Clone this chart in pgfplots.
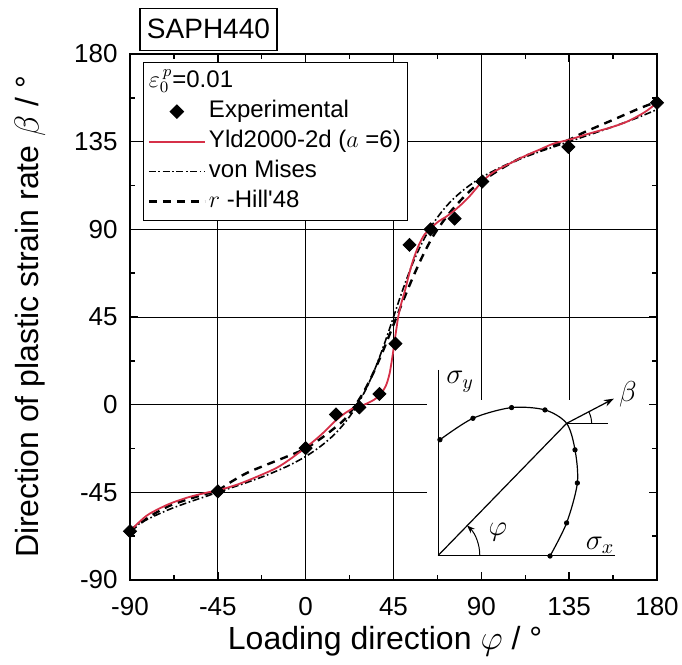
\documentclass[border=0pt]{standalone}
\usepackage{fontspec}
\setmainfont{Liberation Sans}
\usepackage{pgfplots}
\pgfplotsset{compat=1.18}
\usetikzlibrary{arrows.meta}
\definecolor{yldred}{RGB}{214,48,72}
\pgfplotsset{
 yldstyle/.style={draw=yldred, color=yldred, line width=0.9pt, no markers, smooth},
 vmstyle/.style={black, line width=0.8pt, dash pattern=on 3.5pt off 1.3pt on 0.8pt off 1.3pt, no markers, smooth},
 hillstyle/.style={black, line width=1.2pt, dash pattern=on 4pt off 3pt, no markers, smooth},
 expstyle/.style={only marks, mark=square*, mark size=2.3pt, mark options={rotate=45, fill=black, draw=black, solid}},
 explegend/.style={legend image code/.code={\draw[##1, draw=none] plot coordinates {(0pt,0pt) (14pt,0pt) (28pt,0pt)};}},
}
\begin{document}
\begin{tikzpicture}
\begin{axis}[
  at={(0,0)}, anchor=south west,
  scale only axis, width=263.5pt, height=263pt,
  xmin=-90, xmax=180, ymin=-90, ymax=180,
  xtick={-90,-45,...,180}, ytick={-90,-45,...,180},
  minor tick num=1,
  tick align=inside,
  major tick length=4pt, minor tick length=2.5pt,
  every tick/.style={black, line width=0.7pt},
  axis line style={line width=1.4pt},
  /pgf/number format/assume math mode=true,
  ticklabel style={font=\fontsize{13}{15}\selectfont},
  xticklabel style={anchor=center, yshift=-13.5pt},
  yticklabel style={anchor=east, inner sep=0pt, xshift=-6pt},
  xlabel={Loading direction $\varphi$ / °},
  ylabel={Direction of plastic strain rate $\beta$ / °},
  label style={font=\fontsize{16}{19}\selectfont},
  xlabel style={at={(axis description cs:0.484,-0.117)}, anchor=center},
  ylabel style={at={(axis description cs:-0.19,0.5)}, anchor=center},
  clip=false,
  legend cell align=left,
  legend image code/.code={\draw[#1] (0pt,0pt) -- (28pt,0pt);},
  legend style={at={(axis description cs:0,1)}, anchor=north west, xshift=6.5pt, yshift=-4pt,
    draw=black, line width=0.6pt, fill=white, font=\fontsize{12}{14}\selectfont,
    inner xsep=2pt, inner ysep=2pt, row sep=0pt,
    nodes={inner sep=1.5pt, text height=9pt, text depth=3pt}},
]
% grid
\foreach \g in {-45,0,45} {\edef\tmp{\noexpand\draw[line width=0.5pt] (axis cs:\g,-90) -- (axis cs:\g,180);}\tmp}
\foreach \g in {90,135} {\edef\tmp{\noexpand\draw[line width=0.5pt] (axis cs:\g,2.6) -- (axis cs:\g,180);}\tmp}
\foreach \g in {45,90,135} {\edef\tmp{\noexpand\draw[line width=0.5pt] (axis cs:-90,\g) -- (axis cs:180,\g);}\tmp}
\foreach \g in {-45,0} {\edef\tmp{\noexpand\draw[line width=0.5pt] (axis cs:-90,\g) -- (axis cs:62,\g);}\tmp}

\addlegendimage{empty legend}
\addlegendentry{\hspace*{-30pt}$\varepsilon_0^{\,p}$=0.01}
\addlegendimage{draw=none, mark=square*, mark size=2.3pt, mark options={rotate=45, fill=black, draw=black, solid}, mark repeat=2, mark phase=2, explegend}
\addlegendentry{Experimental}
\addlegendimage{yldstyle}
\addlegendentry{Yld2000-2d ($a$ =6)}
\addlegendimage{vmstyle}
\addlegendentry{von Mises}
\addlegendimage{hillstyle}
\addlegendentry{$r$ -Hill\textquotesingle 48}

% r-Hill'48
\addplot[hillstyle, forget plot] coordinates {
(-90,-65) (-80,-57.5) (-70,-52) (-60,-48.5) (-50,-45.5) (-45,-44) (-38,-39.5) (-30,-35)
(-20,-30.8) (-10,-26.8) (0,-22.5) (9,-16.5) (16,-11) (20,-7.5) (25,-1) (30,7) (35,17)
(40,28.5) (45,41) (50,53.5) (55,65.5) (60,76.5) (65,86) (70,93.5) (75,100) (80,105.5)
(85,110.5) (90,114.5) (100,121) (110,126.5) (120,130.5) (128,133.5) (135,136) (142,139.5)
(150,143) (157,146) (165,149.5) (172,152.5) (180,155.5)};
% von Mises
\addplot[vmstyle, forget plot] coordinates {
(-90,-64) (-85,-61) (-80,-58.3) (-70,-53.8) (-60,-50.1) (-50,-46.7) (-45,-45) (-40,-43.3)
(-30,-39.9) (-20,-36.2) (-10,-31.9) (-5,-29.4) (0,-26.6) (5,-23.3) (10,-19.5) (15,-15)
(20,-9.4) (25,-2.5) (30,6.2) (35,17.1) (40,30.3) (45,45) (50,59.7) (55,72.9) (60,83.8)
(65,92.5) (70,99.4) (75,105) (80,109.5) (85,113.3) (90,116.6) (100,121.9) (110,126.2)
(120,129.9) (130,133.3) (135,135) (140,136.7) (150,140.1) (160,143.6) (170,147.3) (180,151.5)};
% Yld2000-2d
\addplot[yldstyle, forget plot] coordinates {
(-90,-65) (-85,-60) (-80,-56) (-70,-51) (-60,-47.5) (-50,-45) (-45,-44) (-35,-41) (-25,-37)
(-15,-32.5) (-8,-28) (0,-22) (5,-18) (10,-13.5) (15,-8.5) (20,-4.5) (25,-1.5) (30,0)
(35,2.5) (38,5) (41,9.5) (43,16) (44.5,25) (45.5,32) (46.5,39) (47.5,45.5) (49,52) (51,59)
(53,67) (55,74) (58,82) (61,87.5) (64,90.5) (68,94) (72,96.5) (76,99.5) (80,103) (84,107)
(90,114) (95,118.5) (100,121.5) (106,124.5) (112,127.5) (120,131) (127,134) (135,136)
(143,138.5) (150,140.5) (157,142.5) (164,145) (170,148) (175,151) (180,155)};
% Experimental
\addplot[expstyle, forget plot] coordinates {
(-90,-65) (-45,-44.5) (0,-22.3) (15.5,-5) (27.5,-1.4) (37.8,5.5) (46,31.3) (53.2,82)
(64,90) (76.3,95.5) (90.5,114.5) (134.6,132.3) (180,155)};

% inset diagram
\addplot[black, line width=0.6pt, forget plot] coordinates {(67.9,17.9) (67.9,-77.4) (158.5,-77.4)};
\addplot[black, line width=0.6pt, smooth, forget plot] coordinates {
(68.8,-18.0) (85.7,-7.0) (105.5,-1.5) (122.6,-2.7) (133.7,-9.6) (138.0,-23.2) (139.2,-40.2) (133.7,-60.7) (125.2,-77.7)};
\addplot[black, only marks, mark=*, mark size=1.1pt, forget plot] coordinates {
(68.8,-18.0) (85.7,-7.0) (105.5,-1.5) (122.6,-2.7) (138.0,-23.2) (139.2,-40.2) (133.7,-60.7) (125.2,-77.7)};
\addplot[black, line width=0.6pt, forget plot] coordinates {(67.9,-77.4) (133.7,-9.6)};
\addplot[black, line width=0.6pt, forget plot] coordinates {(133.7,-9.6) (154.9,-9.6)};
\addplot[black, line width=0.6pt, -{Stealth[length=5pt,width=3.5pt]}, forget plot] coordinates {(133.7,-9.6) (157.9,3.1)};
\draw[line width=0.5pt] (axis cs:133.7,-9.6) ++(0:12.5pt) arc[start angle=0, end angle=27, radius=12.5pt];
\draw[line width=0.5pt, -{Stealth[length=4pt,width=3pt]}] (axis cs:67.9,-77.4) ++(0:20.8pt) arc[start angle=0, end angle=46, radius=20.8pt];
\node[font=\fontsize{14}{16}\selectfont] at (axis cs:79.1,11.8) {$\sigma_y$};
\node[font=\fontsize{14}{16}\selectfont] at (axis cs:150.8,-72.1) {$\sigma_x$};
\node[font=\fontsize{14}{16}\selectfont] at (axis cs:98.5,-65.2) {$\varphi$};
\node[font=\fontsize{15}{17}\selectfont] at (axis cs:165.1,5.1) {$\beta$};

\node[draw, line width=0.6pt, font=\fontsize{14}{16}\selectfont, inner xsep=3.5pt, minimum height=21pt] at (axis cs:-49.8,192.7) {SAPH440};
\end{axis}
\pgfresetboundingbox
\useasboundingbox (-65pt,-42.5pt) rectangle (276pt,290pt);
\end{tikzpicture}
\end{document}
